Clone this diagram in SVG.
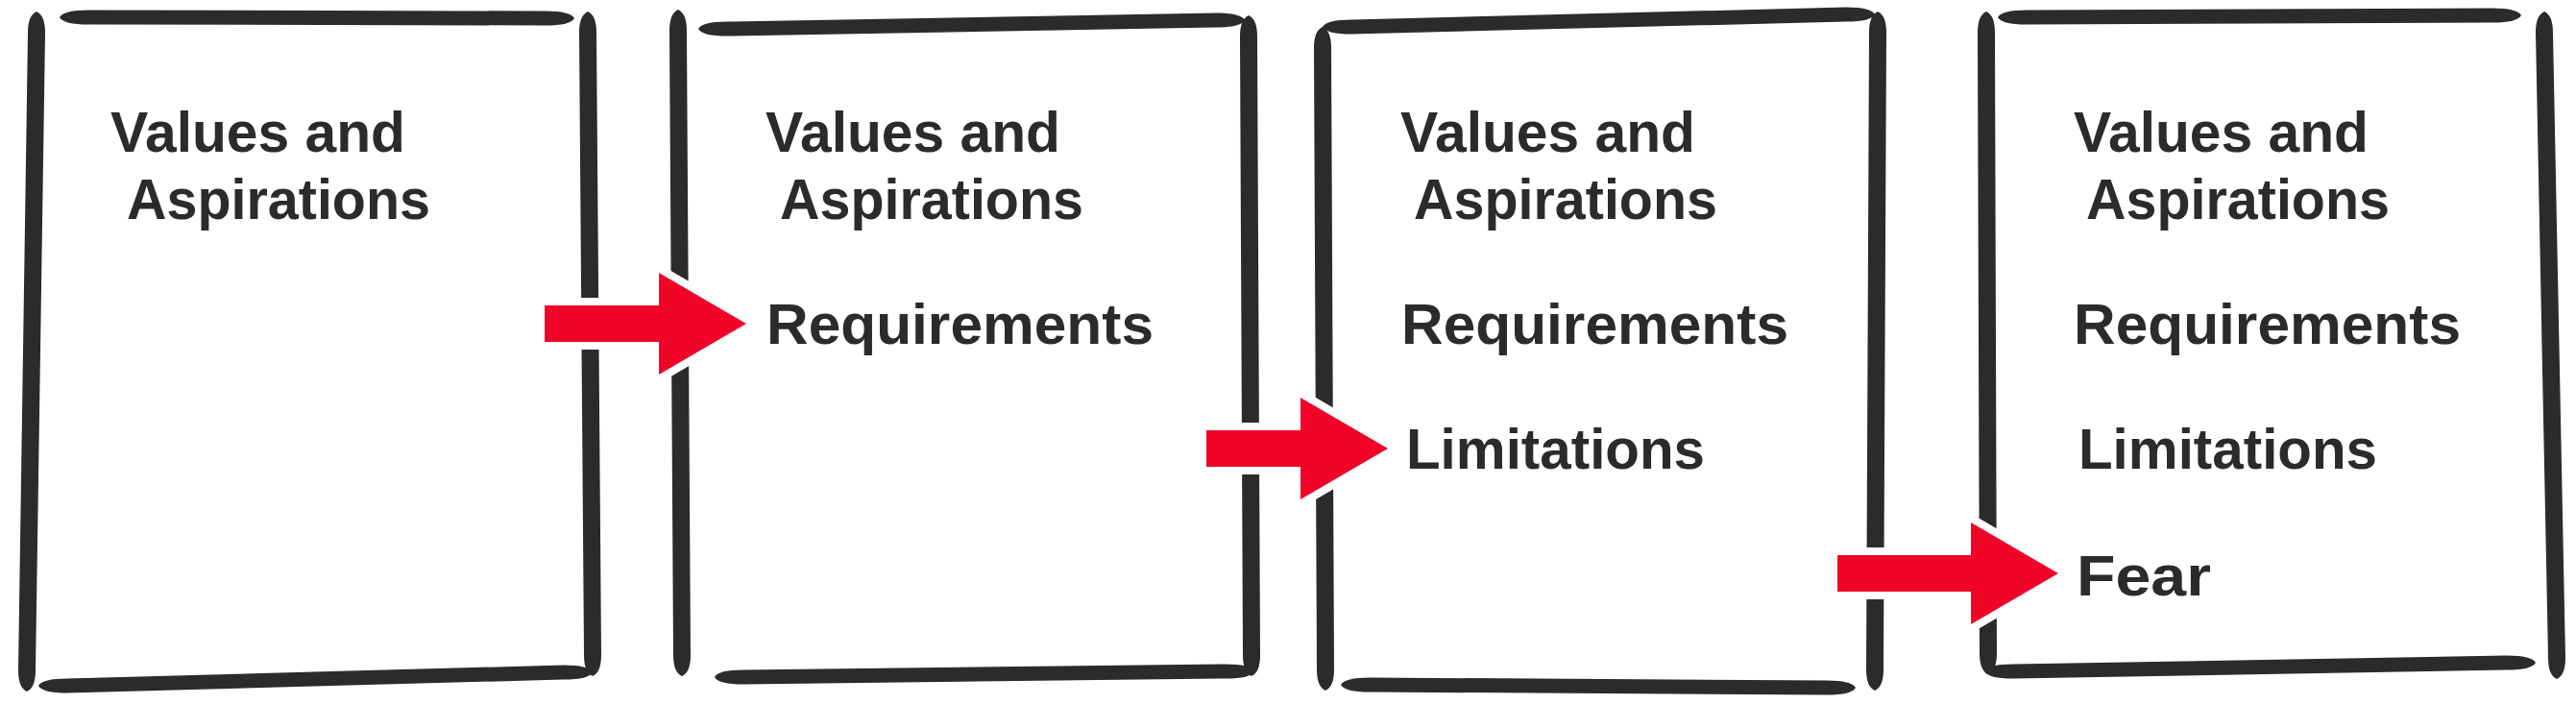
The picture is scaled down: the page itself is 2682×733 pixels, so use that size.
<svg xmlns="http://www.w3.org/2000/svg" width="2682" height="733" viewBox="0 0 2682 733">
<style>
.ln{fill:#2b2b2d}
.t{font-family:"Liberation Sans",Arial,sans-serif;font-weight:700;font-size:60px;fill:#2b2b2d}
.ar{fill:#f00528;stroke:#ffffff;stroke-width:16;stroke-linejoin:miter;paint-order:stroke fill}
</style>
<rect width="2682" height="733" fill="#ffffff"/>
<g id="panel1">
<path class="ln" d="M38,12 Q47,16 47,34 L37,698 Q37,716 28,720 Q19,716 19,698 L29,34 Q29,16 38,12 Z"/>
<path class="ln" d="M62,18 Q66,10.5 92,10.5 L568,11.5 Q594,11.5 598,19 Q594,26.5 568,26.5 L92,25.5 Q66,25.5 62,18 Z"/>
<path class="ln" d="M612,12 Q621,16 621,34 L626,682 Q626,700 617,704 Q608,700 608,682 L603,34 Q603,16 612,12 Z"/>
<path class="ln" d="M40,714 Q44,706.5 70,706.5 L587,692.5 Q613,692.5 617,700 Q613,707.5 587,707.5 L70,721.5 Q44,721.5 40,714 Z"/>
<text class="t" x="115" y="158" textLength="307" lengthAdjust="spacingAndGlyphs">Values and</text>
<text class="t" x="132" y="228" textLength="316" lengthAdjust="spacingAndGlyphs">Aspirations</text>
</g>
<g id="panel2">
<path class="ln" d="M706,10 Q715,14 715,32 L719,682 Q719,700 710,704 Q701,700 701,682 L697,32 Q697,14 706,10 Z"/>
<path class="ln" d="M727,30 Q731,22.5 757,22.5 L1266,13.5 Q1292,13.5 1296,21 Q1292,28.5 1266,28.5 L757,37.5 Q731,37.5 727,30 Z"/>
<path class="ln" d="M1300,16 Q1309,20 1309,38 L1312,682 Q1312,700 1303,704 Q1294,700 1294,682 L1291,38 Q1291,20 1300,16 Z"/>
<path class="ln" d="M744,705 Q748,697.5 774,697.5 L1276,691.5 Q1302,691.5 1306,699 Q1302,706.5 1276,706.5 L774,712.5 Q748,712.5 744,705 Z"/>
<text class="t" x="797" y="158" textLength="307" lengthAdjust="spacingAndGlyphs">Values and</text>
<text class="t" x="812" y="228" textLength="316" lengthAdjust="spacingAndGlyphs">Aspirations</text>
<text class="t" x="798" y="358" textLength="403" lengthAdjust="spacingAndGlyphs">Requirements</text>
</g>
<g id="panel3">
<path class="ln" d="M1377,28 Q1386,32 1386,50 L1389,697 Q1389,715 1380,719 Q1371,715 1371,697 L1368,50 Q1368,32 1377,28 Z"/>
<path class="ln" d="M1377,28 Q1381,20.5 1407,20.5 L1922,7.5 Q1948,7.5 1952,15 Q1948,22.5 1922,22.5 L1407,35.5 Q1381,35.5 1377,28 Z"/>
<path class="ln" d="M1955,12 Q1964,16 1964,34 L1961,697 Q1961,715 1952,719 Q1943,715 1943,697 L1946,34 Q1946,16 1955,12 Z"/>
<path class="ln" d="M1396,713 Q1400,705.5 1426,705.5 L1902,708.5 Q1928,708.5 1932,716 Q1928,723.5 1902,723.5 L1426,720.5 Q1400,720.5 1396,713 Z"/>
<text class="t" x="1458" y="158" textLength="307" lengthAdjust="spacingAndGlyphs">Values and</text>
<text class="t" x="1472" y="228" textLength="316" lengthAdjust="spacingAndGlyphs">Aspirations</text>
<text class="t" x="1459" y="358" textLength="403" lengthAdjust="spacingAndGlyphs">Requirements</text>
<text class="t" x="1464" y="488" textLength="311" lengthAdjust="spacingAndGlyphs">Limitations</text>
</g>
<g id="panel4">
<path class="ln" d="M2068,12 Q2077,16 2077,34 L2079,680 Q2079,698 2070,702 Q2061,698 2061,680 L2059,34 Q2059,16 2068,12 Z"/>
<path class="ln" d="M2080,18 Q2084,10.5 2110,10.5 L2595,8.5 Q2621,8.5 2625,16 Q2621,23.5 2595,23.5 L2110,25.5 Q2084,25.5 2080,18 Z"/>
<path class="ln" d="M2649,12 Q2658,16 2658,34 L2671,685 Q2671,703 2662,707 Q2653,703 2653,685 L2640,34 Q2640,16 2649,12 Z"/>
<path class="ln" d="M2066,699 Q2070,691.5 2096,691.5 L2610,682.5 Q2636,682.5 2640,690 Q2636,697.5 2610,697.5 L2096,706.5 Q2070,706.5 2066,699 Z"/>
<text class="t" x="2159" y="158" textLength="307" lengthAdjust="spacingAndGlyphs">Values and</text>
<text class="t" x="2172" y="228" textLength="316" lengthAdjust="spacingAndGlyphs">Aspirations</text>
<text class="t" x="2159" y="358" textLength="403" lengthAdjust="spacingAndGlyphs">Requirements</text>
<text class="t" x="2164" y="488" textLength="311" lengthAdjust="spacingAndGlyphs">Limitations</text>
<text class="t" x="2162" y="620" textLength="140" lengthAdjust="spacingAndGlyphs">Fear</text>
</g>
<g id="connectors">
<path class="ar" d="M567,318 L686,318 L686,284 L777,337 L686,390 L686,356 L567,356 Z"/>
<path class="ar" d="M1256,448 L1354,448 L1354,414 L1445,467 L1354,520 L1354,486 L1256,486 Z"/>
<path class="ar" d="M1913,578 L2052,578 L2052,544 L2143,597 L2052,650 L2052,616 L1913,616 Z"/>
</g>
</svg>
